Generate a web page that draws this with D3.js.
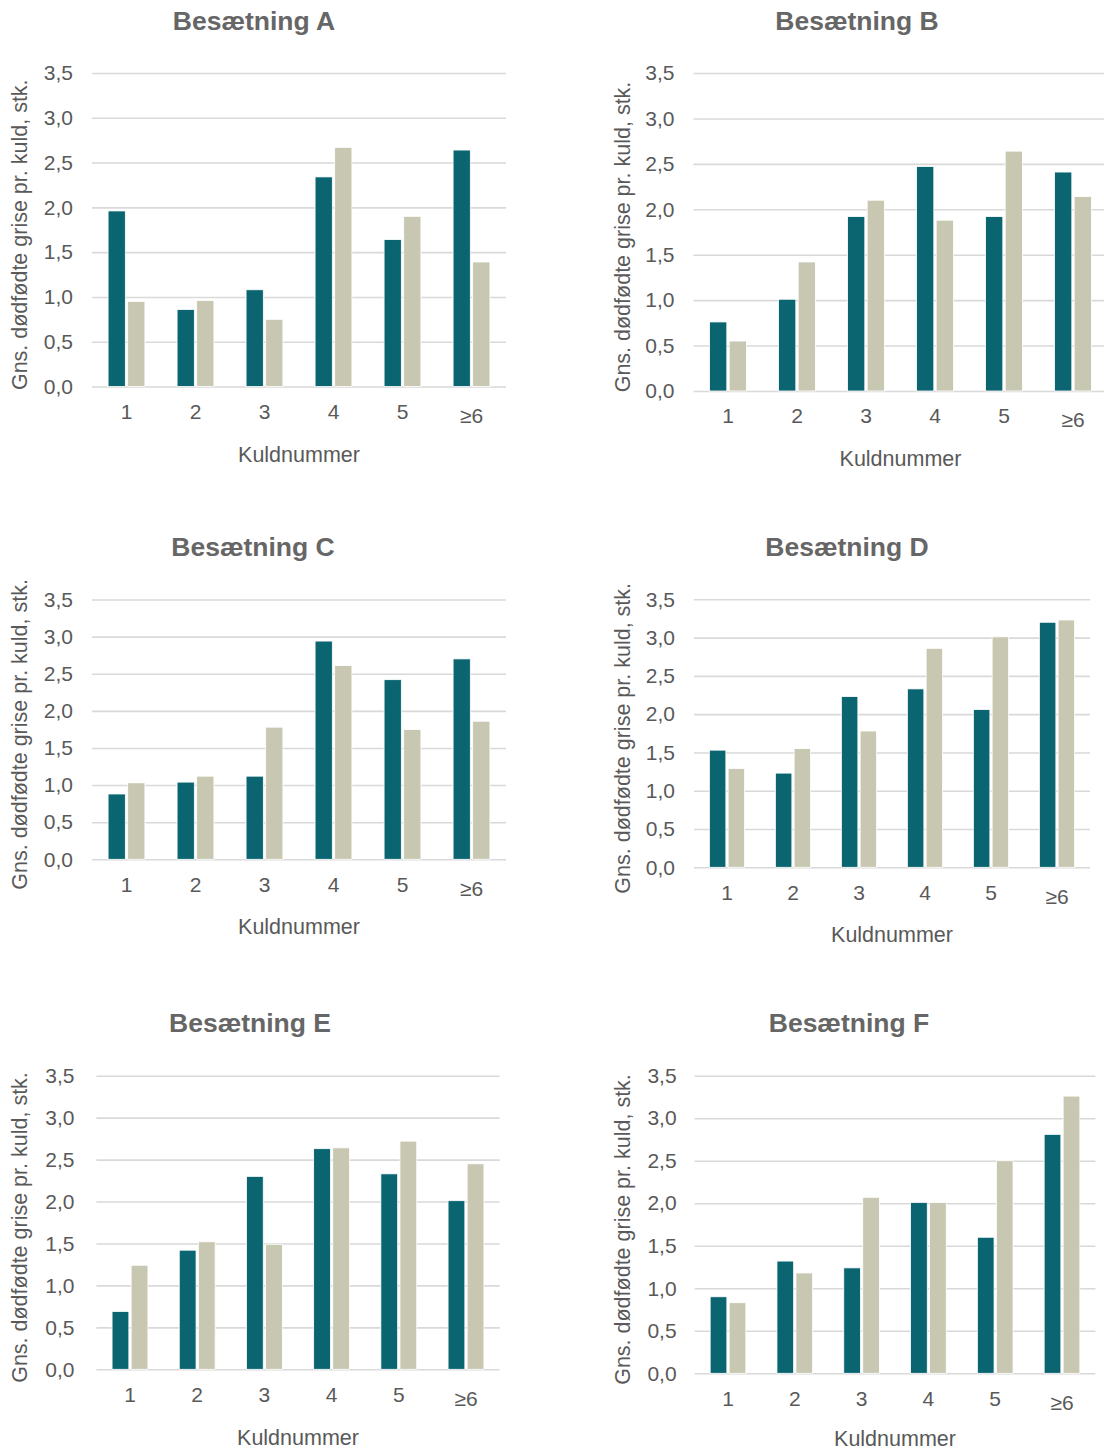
<!DOCTYPE html>
<html>
<head>
<meta charset="utf-8">
<script src="https://cdn.jsdelivr.net/npm/d3@7"></script>
<style>
  body { margin: 0; background: #fff; }
  svg text { font-family: "Liberation Sans", Arial, sans-serif; }
</style>
</head>
<body>
<div id="chart"></div>
<script>
// categories and tick values
const kuld = ["1", "2", "3", "4", "5", "≥6"]
const yTicks = [0, 0.5, 1, 1.5, 2, 2.5, 3, 3.5]

// values, per herd (dark series, light series)
const darkA = [1.96, 0.86, 1.08, 2.34, 1.64, 2.64]
const lightA = [0.95, 0.96, 0.75, 2.67, 1.90, 1.39]
const darkB = [0.76, 1.01, 1.92, 2.47, 1.92, 2.41]
const lightB = [0.55, 1.42, 2.10, 1.88, 2.64, 2.14]
const darkC = [0.88, 1.04, 1.12, 2.94, 2.42, 2.70]
const lightC = [1.03, 1.12, 1.78, 2.61, 1.75, 1.86]
const darkD = [1.53, 1.23, 2.23, 2.33, 2.06, 3.20]
const lightD = [1.29, 1.55, 1.78, 2.86, 3.01, 3.23]
const darkE = [0.69, 1.42, 2.30, 2.63, 2.33, 2.01]
const lightE = [1.24, 1.52, 1.49, 2.64, 2.72, 2.45]
const darkF = [0.90, 1.32, 1.24, 2.01, 1.60, 2.81]
const lightF = [0.83, 1.18, 2.07, 2.01, 2.50, 3.26]

const colDark = "#0a6570"
const colLight = "#c8c8b2"
const textCol = "#595959"

// layout of each small chart (pixels in the page)
const panels = [
  {title: "Besætning A", dark: darkA, light: lightA, x0: 92, x1: 506, yTop: 73, yBot: 386.5,
   titleX: 254, titleY: 30, yTitleX: 27, labY: 419, kuldY: 462, tickDx: -19},
  {title: "Besætning B", dark: darkB, light: lightB, x0: 693.5, x1: 1107.5, yTop: 73, yBot: 391,
   titleX: 857, titleY: 30, yTitleX: 630, labY: 423, kuldY: 466, tickDx: -19},
  {title: "Besætning C", dark: darkC, light: lightC, x0: 92, x1: 506, yTop: 599.5, yBot: 859.3,
   titleX: 253, titleY: 556, yTitleX: 27, labY: 892, kuldY: 934, tickDx: -19},
  {title: "Besætning D", dark: darkD, light: lightD, x0: 694, x1: 1090, yTop: 599.3, yBot: 867.3,
   titleX: 847, titleY: 556, yTitleX: 630, labY: 900, kuldY: 942, tickDx: -19},
  {title: "Besætning E", dark: darkE, light: lightE, x0: 96.4, x1: 499.6, yTop: 1075.7, yBot: 1369.3,
   titleX: 250, titleY: 1032, yTitleX: 27, labY: 1402, kuldY: 1445, tickDx: -22},
  {title: "Besætning F", dark: darkF, light: lightF, x0: 694.6, x1: 1095.4, yTop: 1075.7, yBot: 1373.3,
   titleX: 849, titleY: 1032, yTitleX: 630, labY: 1406, kuldY: 1446, tickDx: -18}
]

const svg = d3.select("#chart")
  .append("svg")
  .attr("width", 1104)
  .attr("height", 1452)

const fmt = d => d.toFixed(1).replace(".", ",")

panels.forEach(p => {
  const g = svg.append("g")

  const x = d3.scaleBand()
    .domain(kuld)
    .range([p.x0, p.x1])
    .padding(0)

  const xSub = d3.scaleBand()
    .domain(["dark", "light"])
    .range([0, x.bandwidth()])
    .paddingInner(0.12)
    .paddingOuter(0.82)

  const y = d3.scaleLinear()
    .domain([0, 3.5])
    .range([p.yBot, p.yTop])

  // gridlines
  g.append("g")
    .attr("transform", `translate(${p.x0},0)`)
    .call(d3.axisLeft(y).tickValues(yTicks).tickSize(-(p.x1 - p.x0)).tickFormat(""))
    .call(a => a.select(".domain").remove())
    .selectAll("line")
      .attr("stroke", "#d9d9d9")
      .attr("stroke-width", 1.6)

  // y tick labels
  g.append("g")
    .attr("transform", `translate(${p.x0},0)`)
    .call(d3.axisLeft(y).tickValues(yTicks).tickSize(0).tickPadding(-p.tickDx).tickFormat(fmt))
    .call(a => a.select(".domain").remove())
    .selectAll("text")
      .attr("fill", textCol)
      .style("font-size", "21px")

  // bars
  const rows = kuld.map((k, i) => ({k: k, dark: p.dark[i], light: p.light[i]}))
  const grp = g.selectAll(".grp")
    .data(rows)
    .join("g")
    .attr("transform", d => `translate(${x(d.k)},0)`)

  ;["dark", "light"].forEach(s => {
    grp.append("rect")
      .attr("x", xSub(s))
      .attr("width", xSub.bandwidth())
      .attr("y", d => y(d[s]))
      .attr("height", d => y(0) - y(d[s]))
      .attr("fill", s === "dark" ? colDark : colLight)
      .attr("stroke", "#ffffff")
      .attr("stroke-width", 0.8)
  })

  // x labels
  g.append("g")
    .attr("transform", `translate(0,${p.labY})`)
    .call(d3.axisBottom(x).tickSize(0))
    .call(a => a.select(".domain").remove())
    .selectAll("text")
      .attr("y", 0)
      .attr("dy", d => d === "≥6" ? "4px" : "0")
      .attr("fill", textCol)
      .style("font-size", "21px")

  // title
  g.append("text")
    .attr("x", p.titleX)
    .attr("y", p.titleY)
    .attr("text-anchor", "middle")
    .attr("fill", "#666666")
    .style("font-size", "26.5px")
    .style("font-weight", "bold")
    .text(p.title)

  // x axis title
  g.append("text")
    .attr("x", (p.x0 + p.x1) / 2)
    .attr("y", p.kuldY)
    .attr("text-anchor", "middle")
    .attr("fill", textCol)
    .style("font-size", "21.5px")
    .text("Kuldnummer")

  // y axis title
  const cy = (p.yTop + p.yBot) / 2 + 5
  g.append("text")
    .attr("transform", `translate(${p.yTitleX},${cy}) rotate(-90)`)
    .attr("text-anchor", "middle")
    .attr("fill", textCol)
    .style("font-size", "21.5px")
    .text("Gns. dødfødte grise pr. kuld, stk.")
})
</script>
</body>
</html>
